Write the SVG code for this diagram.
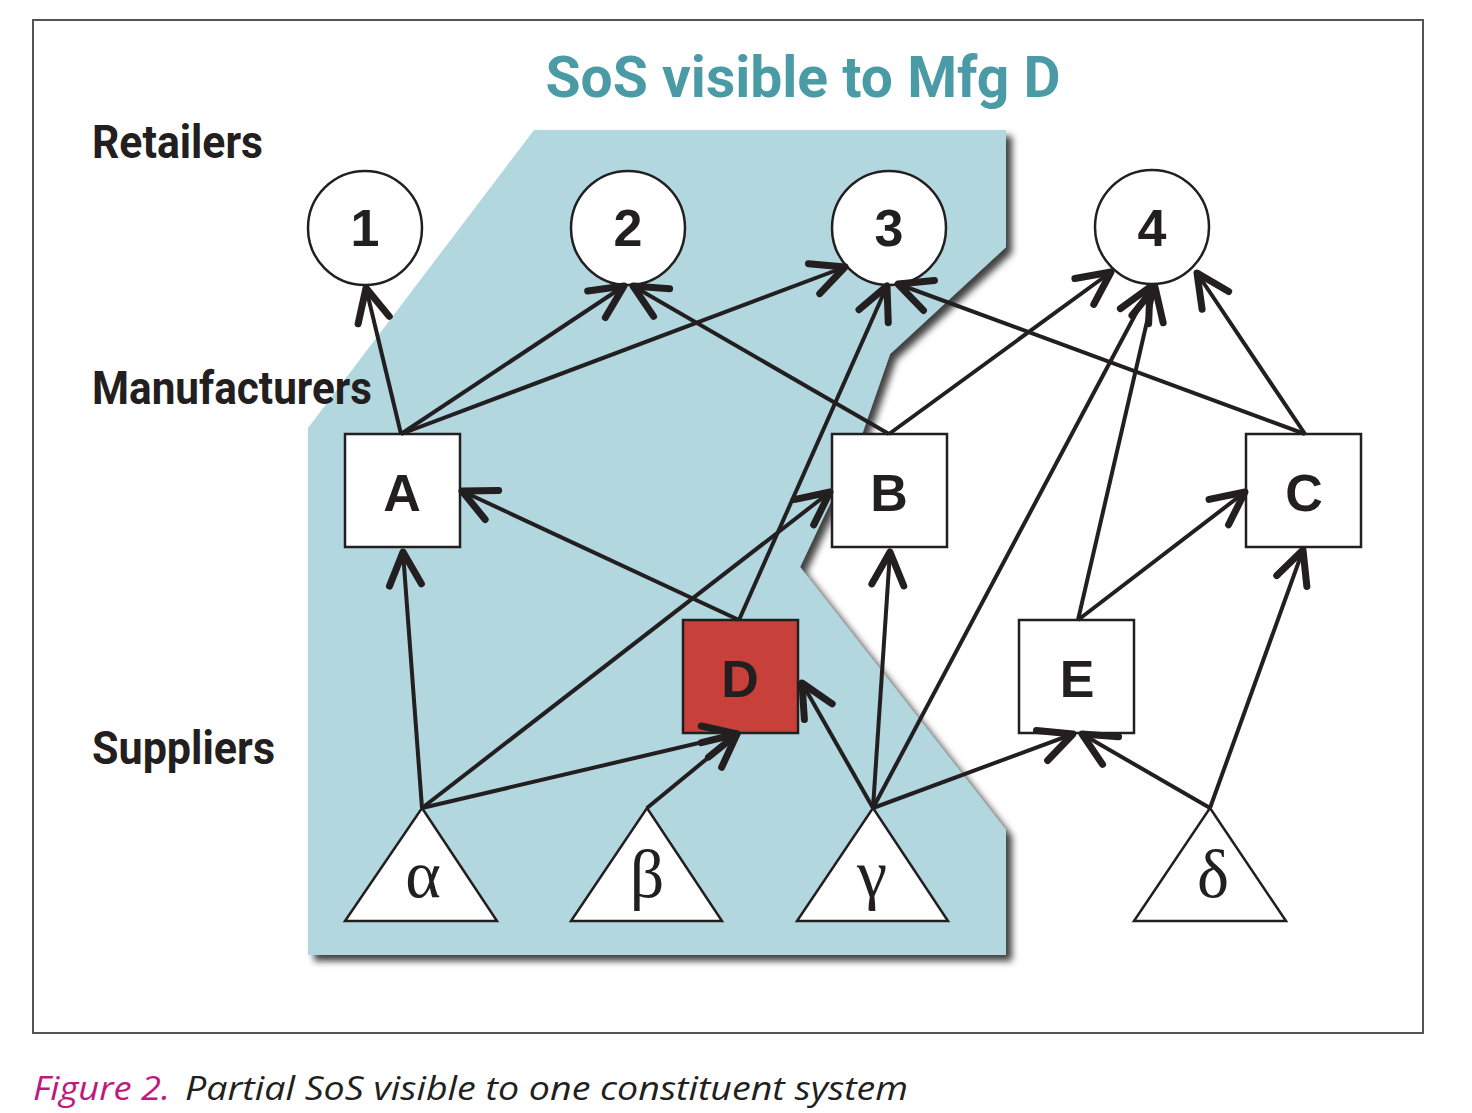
<svg xmlns="http://www.w3.org/2000/svg" width="1472" height="1113" viewBox="0 0 1472 1113">
<style>
.lbl{font-family:"Liberation Sans Narrow","Roboto","Liberation Sans",sans-serif;font-weight:bold;fill:#231f20}
.node{fill:#fff;stroke:#231f20;stroke-width:2.5}
.ntxt{font-family:"Liberation Sans","Arial",sans-serif;font-weight:bold;font-size:52px;fill:#231f20;text-anchor:middle}
.gtxt{font-family:"Liberation Serif","Times New Roman",serif;font-size:68px;fill:#231f20;text-anchor:middle}
.edge{fill:none;stroke:#231f20;stroke-width:4;marker-end:url(#arr)}
</style>
<defs>
<marker id="arr" markerUnits="userSpaceOnUse" orient="auto" refX="0" refY="0" markerWidth="80" markerHeight="80" viewBox="-40 -40 80 80" overflow="visible">
<path d="M-33,-16 L0,0 L-33,16" fill="none" stroke="#231f20" stroke-width="7" stroke-linecap="round" stroke-linejoin="round"/>
</marker>
<filter id="shadow" x="-10%" y="-10%" width="130%" height="130%">
<feDropShadow dx="6" dy="6" stdDeviation="3.5" flood-color="#000" flood-opacity="0.75"/>
</filter>
</defs>
<rect x="0" y="0" width="1472" height="1113" fill="#fff"/>
<rect x="33" y="20" width="1390" height="1013" fill="#fff" stroke="#555" stroke-width="2"/>
<g id="region">
<polygon points="534,130 1006,130 1006,247 890,354 860,440 800,567 1006,830 1006,955 308,955 308,428" fill="#b2d7df" filter="url(#shadow)"/>
</g>
<text x="803" y="97" class="lbl" style="fill:#4a9ba6" font-size="58" text-anchor="middle" textLength="515" lengthAdjust="spacingAndGlyphs">SoS visible to Mfg D</text>
<text x="92" y="158" class="lbl" font-size="46" textLength="171" lengthAdjust="spacingAndGlyphs">Retailers</text>
<text x="92" y="404" class="lbl" font-size="46" textLength="280" lengthAdjust="spacingAndGlyphs">Manufacturers</text>
<text x="92" y="764" class="lbl" font-size="46" textLength="183" lengthAdjust="spacingAndGlyphs">Suppliers</text>
<g id="r1"><circle cx="365" cy="228" r="57" class="node"/><text x="365" y="246" class="ntxt">1</text></g>
<g id="r2"><circle cx="628" cy="228" r="57" class="node"/><text x="628" y="246" class="ntxt">2</text></g>
<g id="r3"><circle cx="889" cy="228" r="57" class="node"/><text x="889" y="246" class="ntxt">3</text></g>
<g id="r4"><circle cx="1152" cy="227" r="57" class="node"/><text x="1152" y="246" class="ntxt">4</text></g>
<g id="mA"><rect x="345" y="434" width="115" height="113" class="node"/><text x="402" y="511" class="ntxt">A</text></g>
<g id="mB"><rect x="832" y="434" width="115" height="113" class="node"/><text x="889" y="511" class="ntxt">B</text></g>
<g id="mC"><rect x="1246" y="434" width="115" height="113" class="node"/><text x="1304" y="511" class="ntxt">C</text></g>
<g id="mD"><rect x="683" y="620" width="115" height="113" class="node" style="fill:#c8403a"/><text x="740" y="697" class="ntxt">D</text></g>
<g id="mE"><rect x="1019" y="620" width="115" height="113" class="node"/><text x="1077" y="697" class="ntxt">E</text></g>
<g id="sa"><polygon points="422,808 497,921 345,921" class="node"/><text x="423" y="897" class="gtxt">α</text></g>
<g id="sb"><polygon points="647,808 722,921 571,921" class="node"/><text x="647" y="897" class="gtxt">β</text></g>
<g id="sg"><polygon points="873,808 948,921 797,921" class="node"/><text x="872" y="897" class="gtxt">γ</text></g>
<g id="sd"><polygon points="1210,808 1286,921 1134,921" class="node"/><text x="1213" y="897" class="gtxt">δ</text></g>
<g id="connectors">
<path class="edge" d="M401,434 L366,288"/>
<path class="edge" d="M401,434 L624,286"/>
<path class="edge" d="M401,434 L845,267"/>
<path class="edge" d="M889,434 L633,286"/>
<path class="edge" d="M889,434 L1111,272"/>
<path class="edge" d="M1305,434 L898,284"/>
<path class="edge" d="M1305,434 L1197,273"/>
<path class="edge" d="M739,620 L887,286"/>
<path class="edge" d="M739,620 L462,491"/>
<path class="edge" d="M422,808 L403,552"/>
<path class="edge" d="M422,808 L830,492"/>
<path class="edge" d="M422,808 L737,734"/>
<path class="edge" d="M647,808 L737,734"/>
<path class="edge" d="M873,808 L802,683"/>
<path class="edge" d="M873,808 L890,552"/>
<path class="edge" d="M873,808 L1150,287"/>
<path class="edge" d="M873,808 L1073,734"/>
<path class="edge" d="M1210,808 L1082,734"/>
<path class="edge" d="M1210,808 L1303,550"/>
<path class="edge" d="M1078,620 L1155,287"/>
<path class="edge" d="M1078,620 L1245,492"/>
</g>
<text x="33" y="1100" font-family="Open Sans, Liberation Sans, sans-serif" font-style="italic" font-size="33" fill="#c0187d" textLength="137" lengthAdjust="spacingAndGlyphs">Figure 2.</text>
<text x="185" y="1100" font-family="Open Sans, Liberation Sans, sans-serif" font-style="italic" font-size="33" fill="#231f20" textLength="723" lengthAdjust="spacingAndGlyphs">Partial SoS visible to one constituent system</text>
</svg>
